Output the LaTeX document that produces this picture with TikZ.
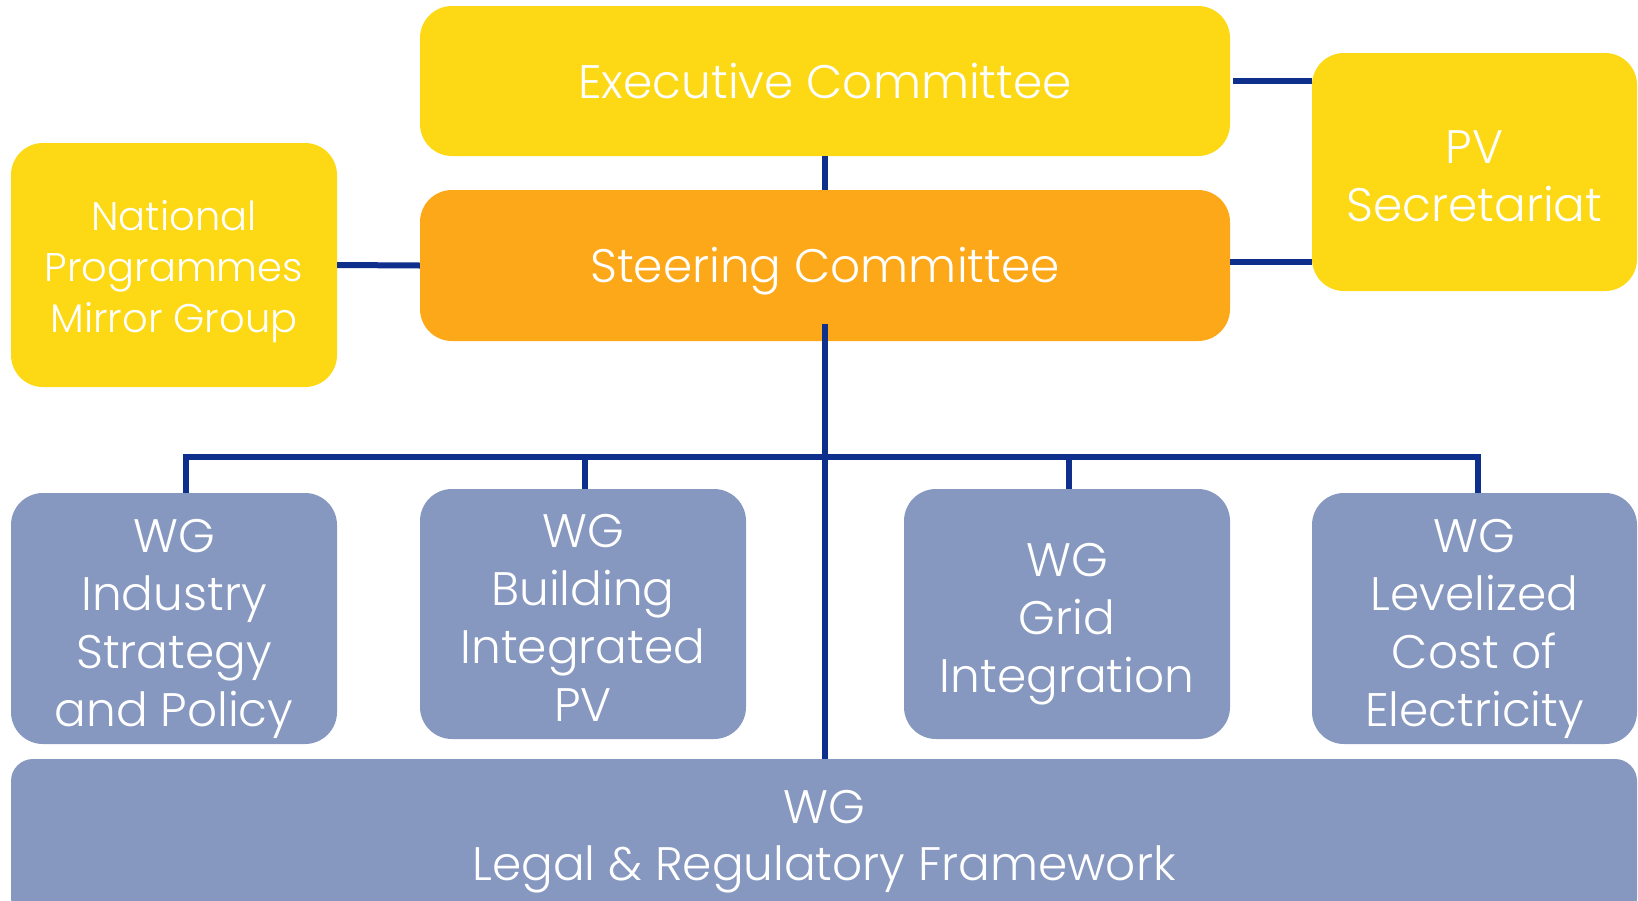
\documentclass[tikz,border=0pt]{standalone}
\usepackage{fontspec}
\setmainfont{Poppins Light}
\definecolor{cyel}{HTML}{FDD915}
\definecolor{corg}{HTML}{FDA818}
\definecolor{cwg}{HTML}{8697C0}
\definecolor{cline}{HTML}{0E2F8C}
\begin{document}
\begin{tikzpicture}[x=1pt,y=-1pt,
  box/.style={fill=#1, rounded corners=32pt, inner sep=0pt},
  txt/.style={inner sep=0pt, align=center, text=white, font=\fontsize{47}{58}\selectfont},
  conn/.style={draw=cline, line width=6pt}]
\useasboundingbox (0,0) rectangle (1638,900);
\clip (0,0) rectangle (1638,900);
\node[box=cyel, minimum width=810pt, minimum height=150pt] (exec) at (825,81) {};
\node[box=corg, minimum width=810pt, minimum height=151pt] (steer) at (825,265.5) {};
\node[box=cyel, minimum width=326pt, minimum height=244pt] (nat) at (174,265) {};
\node[box=cyel, minimum width=325pt, minimum height=238pt] (pv) at (1474.5,172) {};
\node[box=cwg, minimum width=326pt, minimum height=251pt] (ind) at (174,618.5) {};
\node[box=cwg, minimum width=326pt, minimum height=250pt] (bip) at (583,614) {};
\node[box=cwg, minimum width=326pt, minimum height=250pt] (grid) at (1067,614) {};
\node[box=cwg, minimum width=325pt, minimum height=251pt] (lev) at (1474.5,618.5) {};
\node[box=cwg, minimum width=1626pt, minimum height=161pt, rounded corners=22pt] (legal) at (824,839.5) {};
\node[txt] (texec) at ([yshift=0pt]exec.center) {Executive Committee};
\node[txt] (tsteer) at ([yshift=-6pt]steer.center) {Steering Committee};
\node[txt, font=\fontsize{40}{51}\selectfont] (tnat) at ([yshift=-7pt]nat.center) {National\\Programmes\\Mirror Group};
\node[txt] (tpv) at ([yshift=-4pt]pv.center) {PV\\Secretariat};
\node[txt] (tind) at ([yshift=-10pt]ind.center) {WG\\Industry\\Strategy\\and Policy};
\node[txt] (tbip) at ([yshift=-4pt]bip.center) {WG\\Building\\Integrated\\PV};
\node[txt] (tgrid) at ([yshift=-10pt]grid.center) {WG\\Grid\\Integration};
\node[txt] (tlev) at ([yshift=-10pt]lev.center) {WG\\Levelized\\Cost of\\Electricity};
\node[txt, font=\fontsize{47}{57}\selectfont] (tlegal) at ([yshift=-2pt]legal.center) {WG\\Legal \& Regulatory Framework};
\coordinate (bus) at (825,457);
\draw[conn] (exec.south) -- (steer.north);
\draw[conn] (nat.east) -- (steer.west);
\draw[conn] ([xshift=3pt]exec.east) -- (exec.east -| pv.west);
\draw[conn] ([yshift=4pt]steer.east) -- ([yshift=4pt]steer.east -| pv.west);
\draw[conn] ([yshift=17pt]steer.south) -- (steer.south |- legal.north);
\draw[conn] ([xshift=12pt]ind.north) -- ([xshift=12pt]ind.north |- bus) -- ([xshift=3pt]lev.north |- bus) -- ([xshift=3pt]lev.north);
\draw[conn] ([xshift=2pt]bip.north) -- ([xshift=2pt]bip.north |- bus);
\draw[conn] ([xshift=2pt]grid.north) -- ([xshift=2pt]grid.north |- bus);
\end{tikzpicture}
\end{document}
